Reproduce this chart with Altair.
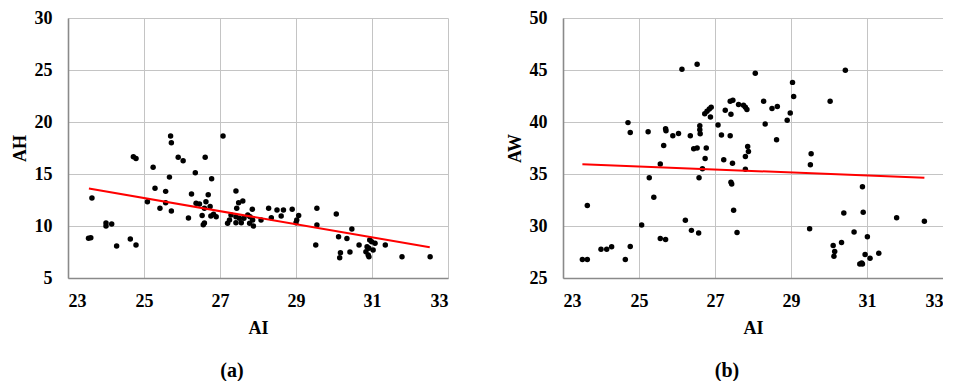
import altair as alt
import pandas as pd

# ---- Panel (a): AI vs AH ----
ai_a = [23.54, 23.60, 23.63, 24.00, 24.00, 24.15, 24.28, 24.64, 24.79, 24.72,
        24.79, 25.09, 25.24, 25.29, 25.42, 25.57, 25.57, 25.67, 25.72, 25.70,
        25.72, 25.90, 26.03, 26.17, 26.25, 26.35, 26.37, 26.46, 26.53, 26.56,
        26.59, 26.59, 26.63, 26.61, 26.69, 26.74, 26.78, 26.76, 26.83, 26.90,
        27.08, 27.20, 27.25, 27.29, 27.42, 27.44, 27.49, 27.60, 27.42, 27.51,
        27.63, 27.56, 27.42, 27.73, 27.79, 27.85, 27.86, 27.88, 27.78, 28.08,
        28.28, 28.35, 28.50, 28.67, 28.61, 28.90, 29.07, 29.02, 29.00, 29.55,
        29.55, 29.52, 30.06, 30.12, 30.17, 30.15, 30.34, 30.47, 30.42, 30.66,
        30.94, 30.99, 31.08, 30.87, 30.92, 31.03, 30.84, 30.90, 30.92, 31.35,
        31.79, 32.53]
ah_a = [8.82, 8.87, 12.70, 10.30, 10.00, 10.20, 8.08, 8.75, 8.17, 16.66,
        16.50, 12.34, 15.64, 13.62, 11.70, 13.33, 12.24, 14.70, 11.44, 18.65,
        18.00, 16.60, 16.28, 10.77, 13.08, 15.13, 12.18, 12.12, 11.00, 10.13,
        10.30, 11.70, 12.34, 16.60, 13.00, 11.88, 14.55, 10.96, 11.12, 10.90,
        18.65, 10.26, 10.58, 11.06, 13.37, 11.70, 12.24, 12.40, 10.90, 10.74,
        10.74, 10.32, 10.32, 11.06, 10.90, 11.60, 10.58, 10.00, 10.26, 10.58,
        11.70, 10.80, 11.54, 11.54, 10.96, 11.60, 11.00, 10.58, 10.32, 11.70,
        10.10, 8.17, 11.15, 8.97, 7.43, 6.95, 8.80, 9.71, 7.50, 8.17,
        8.65, 8.49, 8.34, 8.00, 7.85, 7.69, 7.53, 7.21, 7.05, 8.17,
        7.05, 7.05]
fit_a_x = [23.55, 32.52]
fit_a_y = [13.60, 7.95]

# ---- Panel (b): AI vs AW ----
ai_b = [23.51, 23.64, 23.64, 24.00, 24.15, 24.28, 24.64, 24.77, 24.71, 24.77,
        25.07, 25.24, 25.27, 25.39, 25.56, 25.56, 25.70, 25.65, 25.70, 25.71,
        25.89, 26.04, 26.13, 26.22, 26.35, 26.38, 26.44, 26.53, 26.53, 26.57,
        26.58, 26.60, 26.60, 26.61, 26.67, 26.74, 26.77, 26.73, 26.79, 26.85,
        26.90, 26.88, 27.08, 27.17, 27.23, 27.27, 27.40, 27.40, 27.47, 27.42,
        27.42, 27.44, 27.46, 27.49, 27.58, 27.62, 27.75, 27.84, 27.80, 27.80,
        27.86, 27.88, 27.80, 28.06, 28.28, 28.32, 28.50, 28.64, 28.62, 28.90,
        28.98, 29.04, 29.07, 29.53, 29.51, 29.49, 30.03, 30.43, 30.11, 30.15,
        30.13, 30.33, 30.39, 30.66, 30.88, 30.90, 31.01, 30.95, 31.08, 30.81,
        30.86, 30.88, 31.31, 31.78, 32.51]
aw_b = [26.77, 26.77, 31.97, 27.77, 27.77, 28.00, 26.77, 28.03, 39.94, 39.00,
        30.10, 39.07, 34.65, 32.77, 35.97, 28.80, 28.70, 37.74, 39.36, 39.16,
        38.68, 38.90, 45.07, 30.55, 38.68, 29.58, 37.42, 37.49, 45.55, 29.32,
        34.64, 39.65, 39.26, 38.87, 35.50, 36.50, 37.49, 40.80, 41.03, 41.26,
        41.42, 40.49, 39.71, 38.75, 36.36, 41.13, 38.68, 42.00, 42.10, 40.74,
        34.20, 34.03, 36.04, 31.51, 29.38, 41.68, 41.60, 41.20, 36.68, 35.45,
        37.64, 37.16, 41.42, 44.68, 42.00, 39.81, 41.30, 41.50, 38.29, 40.16,
        40.87, 43.81, 42.45, 36.94, 35.90, 29.74, 42.00, 44.97, 28.13, 27.55,
        27.10, 28.42, 31.26, 29.42, 33.77, 31.32, 28.97, 27.26, 26.90, 26.35,
        26.45, 26.35, 27.38, 30.80, 30.45]
fit_b_x = [23.51, 32.51]
fit_b_y = [35.94, 34.64]

x_ticks = [23, 25, 27, 29, 31, 33]
ya_ticks = [5, 10, 15, 20, 25, 30]
yb_ticks = [25, 30, 35, 40, 45, 50]

SERIF = "Times New Roman"
W, H = 380, 260


def panel(xs, ys, fx, fy, yname, ydom, yticks, label):
    pts = pd.DataFrame({"AI": xs, yname: ys})
    fit = pd.DataFrame({"AI": fx, yname: fy})
    xenc = alt.X("AI:Q", scale=alt.Scale(domain=[23, 33], nice=False, zero=False),
                 axis=alt.Axis(values=x_ticks, title="AI"))
    yenc = alt.Y(f"{yname}:Q", scale=alt.Scale(domain=ydom, nice=False, zero=False),
                 axis=alt.Axis(values=yticks, title=yname))
    dots = alt.Chart(pts).mark_circle(size=30, color="black", opacity=1).encode(x=xenc, y=yenc)
    line = alt.Chart(fit).mark_line(color="#ff0000", strokeWidth=2).encode(x="AI:Q", y=f"{yname}:Q")
    return alt.layer(dots, line).properties(
        width=W, height=H,
        title=alt.TitleParams(label, orient="bottom", anchor="middle", dx=-26, offset=24,
                              font=SERIF, fontSize=20, fontWeight="bold", color="black"),
    )


left = panel(ai_a, ah_a, fit_a_x, fit_a_y, "AH", [5, 30], ya_ticks, "(a)")
right = panel(ai_b, aw_b, fit_b_x, fit_b_y, "AW", [25, 50], yb_ticks, "(b)")

chart = alt.hconcat(left, right, spacing=58).properties(
    padding={"left": 11, "top": 9, "right": 0, "bottom": 0}
).configure_view(stroke=None).configure_axis(
    labelFont=SERIF, labelFontSize=18, labelFontWeight="bold", labelColor="black",
    titleFont=SERIF, titleFontSize=18, titleFontWeight="bold", titleColor="black",
    gridColor="#c4c4c4", gridWidth=1, domainColor="#8a8a8a", domainWidth=1.6,
    ticks=False, tickSize=0,
).configure_axisX(labelPadding=14, titlePadding=9).configure_axisY(
    labelPadding=16, titlePadding=5
)

chart.save("out.html", embed_options={"renderer": "svg", "actions": False})
